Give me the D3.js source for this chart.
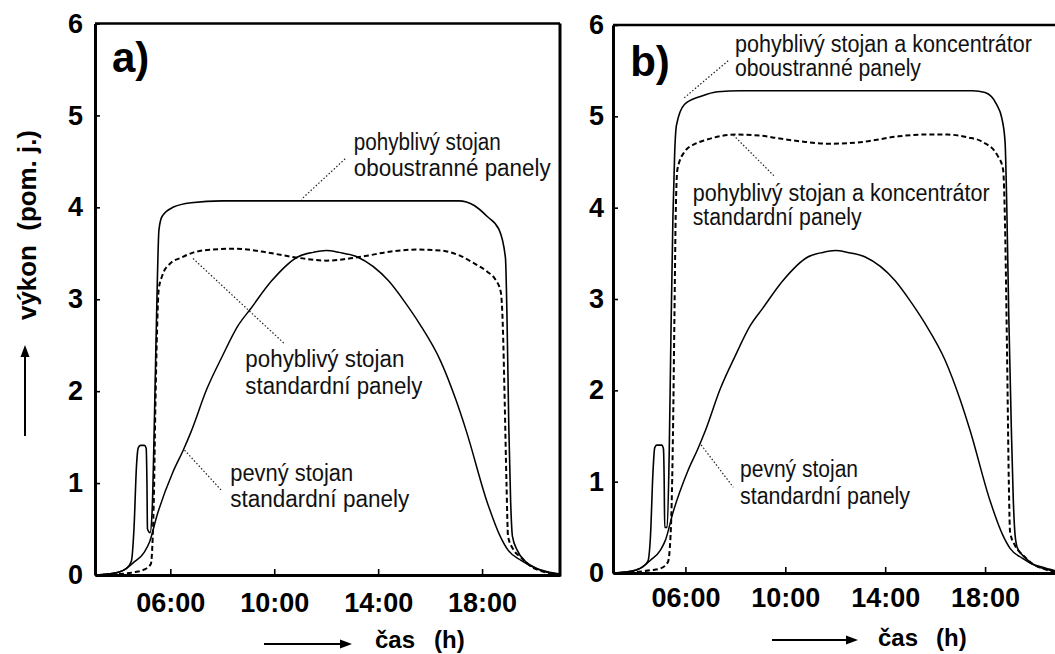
<!DOCTYPE html>
<html><head><meta charset="utf-8">
<script src="https://cdn.jsdelivr.net/npm/d3@7"></script>
<style>body{margin:0;background:#fff}svg{display:block}</style>
</head><body>
<svg id="chart" width="1055" height="654"></svg>
<script>
// ---------- DATA (hour of day, relative power) ----------
const hourDomain = [3.1, 21.0];
const valueDomain = [0, 6];
const xTickValues = [6, 10, 14, 18];
const xTickLabels = ["06:00", "10:00", "14:00", "18:00"];
const yTickValues = [0, 1, 2, 3, 4, 5, 6];

// fixed stand, standard panels (same in both panels)
const fixedStand = [[3.1,0],[3.6,0.01],[4.0,0.03],[4.3,0.07],[4.6,0.14],[5.0,0.25],[5.2,0.36],[5.5,0.66],[6.1,1.12],[6.5,1.36],[6.8,1.56],[7.4,2.02],[8.0,2.38],[8.6,2.71],[9.1,2.9],[9.9,3.2],[10.9,3.46],[11.5,3.51],[12.0,3.53],[12.5,3.51],[13.2,3.46],[14.4,3.2],[15.0,2.98],[15.6,2.73],[16.4,2.33],[17.0,1.9],[17.4,1.56],[18.2,0.79],[18.7,0.42],[19.0,0.27],[19.5,0.16],[20.1,0.07],[20.6,0.03],[21.0,0.01]];

// a) tracking stand, bifacial panels
const trackBifacial = [[3.1,0],[3.6,0.01],[4.0,0.03],[4.3,0.07],[4.5,0.15],[4.6,0.5],[4.7,1.2],[4.76,1.38],[4.85,1.41],[5.0,1.41],[5.07,1.38],[5.1,1.0],[5.12,0.5],[5.22,0.46],[5.3,0.7],[5.38,1.6],[5.44,2.42],[5.5,3.2],[5.56,3.75],[5.68,3.9],[6.1,4.0],[6.8,4.05],[8.0,4.07],[17.1,4.07],[17.7,4.02],[18.2,3.9],[18.65,3.76],[18.9,3.45],[18.96,2.8],[19.03,1.6],[19.1,0.8],[19.17,0.42],[19.35,0.27],[19.7,0.14],[20.1,0.07],[20.5,0.03],[21.0,0.01]];

// a) tracking stand, standard panels
const trackStandard = [[3.1,0],[4.0,0.01],[4.6,0.03],[5.0,0.06],[5.25,0.12],[5.32,0.4],[5.37,0.9],[5.42,1.76],[5.49,2.67],[5.55,3.1],[5.68,3.25],[6.0,3.39],[6.4,3.45],[6.9,3.51],[7.6,3.54],[8.5,3.55],[9.5,3.52],[10.5,3.47],[11.2,3.44],[12.0,3.42],[12.8,3.44],[13.5,3.47],[14.5,3.52],[15.5,3.54],[16.4,3.53],[17.1,3.48],[17.7,3.39],[18.2,3.3],[18.5,3.22],[18.72,3.08],[18.8,2.7],[18.87,1.9],[18.94,1.0],[19.0,0.42],[19.2,0.28],[19.5,0.19],[19.9,0.09],[20.3,0.04],[20.8,0.01],[21.0,0]];

// b) tracking stand + concentrator, bifacial panels
const concBifacial = [[3.1,0],[3.6,0.01],[4.0,0.03],[4.3,0.07],[4.5,0.13],[4.6,0.4],[4.7,1.1],[4.77,1.37],[4.85,1.4],[5.05,1.4],[5.12,1.36],[5.15,1.0],[5.17,0.5],[5.27,0.5],[5.35,1.3],[5.42,2.6],[5.5,3.9],[5.57,4.6],[5.64,4.9],[5.96,5.13],[6.63,5.22],[7.3,5.27],[8.2,5.28],[17.5,5.28],[18.0,5.26],[18.46,5.13],[18.67,4.98],[18.8,4.72],[18.87,4.0],[18.95,2.8],[19.05,1.6],[19.13,0.8],[19.2,0.42],[19.3,0.27],[19.6,0.17],[19.9,0.1],[20.2,0.07],[20.6,0.04],[21.0,0.01]];

// b) tracking stand + concentrator, standard panels
const concStandard = [[3.1,0],[4.0,0.01],[4.6,0.03],[5.0,0.05],[5.3,0.12],[5.42,0.5],[5.5,1.5],[5.56,2.8],[5.61,3.9],[5.68,4.42],[5.96,4.61],[6.4,4.7],[6.8,4.74],[8.0,4.8],[9.0,4.79],[9.7,4.76],[10.8,4.72],[11.8,4.7],[13.1,4.72],[14.5,4.78],[15.5,4.8],[16.5,4.8],[17.3,4.77],[17.9,4.72],[18.5,4.57],[18.72,4.42],[18.8,3.8],[18.88,2.4],[18.95,1.0],[19.0,0.45],[19.2,0.3],[19.5,0.2],[19.9,0.1],[20.3,0.05],[20.8,0.01],[21.0,0]];

// annotation texts
const labelsA = [["pohyblivý stojan","oboustranné panely"],["pohyblivý stojan","standardní panely"],["pevný stojan","standardní panely"]];
const labelsB = [["pohyblivý stojan a koncentrátor","oboustranné panely"],["pohyblivý stojan a koncentrátor","standardní panely"],["pevný stojan","standardní panely"]];
const panelTitles = ["a)", "b)"];
const yTitle = "výkon  (pom. j.)";
const xTitle = ["čas", "(h)"];

// ---------- LAYOUT ----------
const svg = d3.select("#chart");
const FONT = "'Liberation Sans', Arial, Helvetica, sans-serif";
const NARROW = "'Liberation Sans Narrow','Arial Narrow','Liberation Sans', Arial, sans-serif";

const panels = [
  { left: 95, right: 560, top: 23.5, bottom: 575, yPad: 12, xPad: 18,
    series: [
      { data: fixedStand, w: 1.5, dash: null },
      { data: trackStandard, w: 2, dash: "5,3" },
      { data: trackBifacial, w: 1.6, dash: null }
    ],
    title: { text: panelTitles[0], h: 3.75, v: 5.477 },
    labels: [
      { lines: labelsA[0], h: 13.06, v: [4.625, 4.34], w: [147, 197], lead: [[12.73, 4.528], [11.04, 4.086]] },
      { lines: labelsA[1], h: 8.888, v: [2.26, 1.965], w: [159, 177], lead: [[6.874, 3.443], [10.39, 2.517]] },
      { lines: labelsA[2], h: 8.306, v: [1.027, 0.744], w: [123, 179], lead: [[6.547, 1.358], [7.979, 0.917]] }
    ],
    xArrow: { x1: 264, x2: 352, y: 644, t1: 375, t2: 434, base: 648 }
  },
  { left: 613, right: 1060, top: 25, bottom: 573, yPad: 9, xPad: 15,
    series: [
      { data: fixedStand, w: 1.5, dash: null },
      { data: concStandard, w: 2, dash: "5,3" },
      { data: concBifacial, w: 1.6, dash: null }
    ],
    title: { text: panelTitles[1], h: 3.79, v: 5.444 },
    labels: [
      { lines: labelsB[0], h: 7.984, v: [5.702, 5.444], w: [297, 186], lead: [[7.712, 5.609], [5.956, 5.203]] },
      { lines: labelsB[1], h: 6.292, v: [4.074, 3.814], w: [297, 169], lead: [[7.916, 4.795], [9.54, 4.35]] },
      { lines: labelsB[2], h: 8.188, v: [1.049, 0.754], w: [118, 170], lead: [[6.632, 1.402], [7.916, 0.939]] }
    ],
    xArrow: { x1: 772, x2: 858, y: 640, t1: 878, t2: 936, base: 646 }
  }
];

function arrowHead(g, tipX, tipY, dir) {
  let pts;
  if (dir === "right") pts = [[tipX, tipY], [tipX - 12, tipY - 4.5], [tipX - 12, tipY + 4.5]];
  else pts = [[tipX, tipY], [tipX - 4.5, tipY + 12], [tipX + 4.5, tipY + 12]];
  g.append("polygon").attr("points", pts.map(p => p.join(",")).join(" ")).attr("fill", "#000");
}

panels.forEach(p => {
  const x = d3.scaleLinear(hourDomain, [p.left, p.right]);
  const y = d3.scaleLinear(valueDomain, [p.bottom, p.top]);
  const g = svg.append("g");

  const line = d3.line().x(d => x(d[0])).y(d => y(d[1])).curve(d3.curveMonotoneX);
  p.series.forEach(s => {
    g.append("path").attr("d", line(s.data)).attr("fill", "none")
      .attr("stroke", "#000").attr("stroke-width", s.w)
      .attr("stroke-linejoin", "round")
      .attr("stroke-dasharray", s.dash);
  });

  // leader lines and annotation labels
  p.labels.forEach(l => {
    g.append("line")
      .attr("x1", x(l.lead[0][0])).attr("y1", y(l.lead[0][1]))
      .attr("x2", x(l.lead[1][0])).attr("y2", y(l.lead[1][1]))
      .attr("stroke", "#222").attr("stroke-width", 1.2).attr("stroke-dasharray", "1.5,2");
    l.lines.forEach((t, i) => {
      g.append("text").attr("x", x(l.h)).attr("y", y(l.v[i]))
        .attr("font-family", NARROW).attr("font-size", 23).attr("fill", "#111")
        .attr("textLength", l.w[i]).attr("lengthAdjust", "spacingAndGlyphs")
        .text(t);
    });
  });

  // axes
  const yAxis = d3.axisLeft(y).tickValues(yTickValues).tickSize(-5).tickSizeOuter(0)
    .tickPadding(p.yPad).tickFormat(d3.format("d"));
  const ya = g.append("g").attr("transform", `translate(${p.left},0)`).call(yAxis);
  const xAxis = d3.axisBottom(x).tickValues(xTickValues).tickSize(-6).tickSizeOuter(0)
    .tickPadding(p.xPad).tickFormat((d, i) => xTickLabels[i]);
  const xa = g.append("g").attr("transform", `translate(0,${p.bottom})`).call(xAxis);
  [ya, xa].forEach(a => {
    a.attr("font-family", null).attr("font-size", null);
    a.select(".domain").attr("stroke-width", 3).attr("stroke", "#000");
    a.selectAll(".tick line").attr("stroke-width", 1.6).attr("stroke", "#000");
    a.selectAll(".tick text").attr("font-family", FONT).attr("font-size", 27)
      .attr("font-weight", "bold").attr("fill", "#000");
  });

  // top and right borders
  g.append("line").attr("x1", p.left).attr("x2", p.right).attr("y1", p.top).attr("y2", p.top)
    .attr("stroke", "#000").attr("stroke-width", 2.5);
  g.append("line").attr("x1", p.right).attr("x2", p.right).attr("y1", p.top).attr("y2", p.bottom + 1.5)
    .attr("stroke", "#000").attr("stroke-width", 3);

  // panel title
  g.append("text").attr("x", x(p.title.h)).attr("y", y(p.title.v))
    .attr("font-family", FONT).attr("font-size", 42).attr("font-weight", "bold").text(p.title.text);

  // x title with arrow
  const a = p.xArrow;
  g.append("line").attr("x1", a.x1).attr("x2", a.x2 - 10).attr("y1", a.y).attr("y2", a.y)
    .attr("stroke", "#000").attr("stroke-width", 2);
  arrowHead(g, a.x2, a.y, "right");
  g.append("text").attr("x", a.t1).attr("y", a.base).attr("font-family", FONT)
    .attr("font-size", 24).attr("font-weight", "bold").text(xTitle[0]);
  g.append("text").attr("x", a.t2).attr("y", a.base).attr("font-family", FONT)
    .attr("font-size", 24).attr("font-weight", "bold").text(xTitle[1]);
});

// y title with arrow
svg.append("text").attr("transform", "translate(36,225) rotate(-90)")
  .attr("text-anchor", "middle").attr("font-family", FONT).attr("font-size", 25)
  .attr("font-weight", "bold").style("white-space", "pre")
  .attr("textLength", 190).attr("lengthAdjust", "spacingAndGlyphs").text(yTitle);
svg.append("line").attr("x1", 25).attr("x2", 25).attr("y1", 436).attr("y2", 355)
  .attr("stroke", "#000").attr("stroke-width", 2);
arrowHead(svg, 25, 345, "up");
</script>
</body></html>
